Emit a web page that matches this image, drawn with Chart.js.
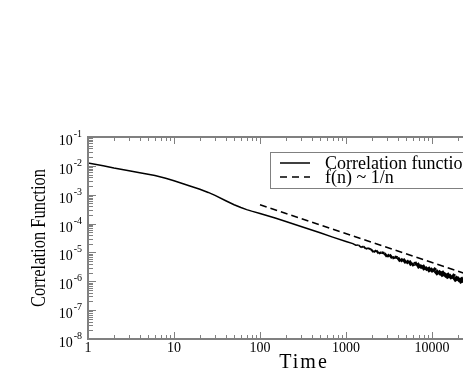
<!DOCTYPE html>
<html>
<head>
<meta charset="utf-8">
<script src="https://cdn.jsdelivr.net/npm/chart.js@4.4.1/dist/chart.umd.min.js"></script>
<style>
  html, body { margin: 0; padding: 0; background: #fff; overflow: hidden; }
  canvas { display: block; }
</style>
</head>
<body>
<canvas id="corrChart" width="560" height="382"></canvas>
<script>
// correlation function (time step, value)
const corrTime = [1, 1.5, 2, 3, 4, 5, 6, 8, 10, 12, 15, 20, 25, 30, 40, 50, 60, 70, 80, 100,
  150, 200, 300, 500, 700, 1000,
  1200, 1300, 1400, 1500, 1600, 1700, 1800, 1950, 2100, 2250, 2400, 2600, 2800, 3000, 3200,
  3450, 3700, 4000, 4300, 4600, 5000, 5400, 5800, 6200, 6700, 7200, 7700, 8300, 8900, 9600,
  10300, 11000, 11900, 12800, 13700, 14700, 15800, 17000, 18300, 19600, 21100, 22700, 24400,
  26200, 28200, 30000];
const corrValue = [1.25e-2, 1.0e-2, 8.4e-3, 6.8e-3, 5.8e-3, 5.1e-3, 4.6e-3, 3.7e-3, 3.05e-3, 2.55e-3,
  2.05e-3, 1.55e-3, 1.2e-3, 9.5e-4, 6.2e-4, 4.5e-4, 3.6e-4, 3.05e-4, 2.7e-4, 2.25e-4,
  1.55e-4, 1.18e-4, 7.9e-5, 4.8e-5, 3.4e-5, 2.4e-5,
  2.02e-5, 1.78e-5, 1.8e-5, 1.5e-5, 1.62e-5, 1.33e-5, 1.42e-5, 1.28e-5, 1.02e-5, 1.18e-5, 9.2e-6,
  1.0e-5, 9.4e-6, 7.1e-6, 8.4e-6, 6.3e-6, 6.9e-6, 6.6e-6, 4.9e-6, 5.9e-6, 4.3e-6, 5.1e-6, 3.6e-6,
  4.0e-6, 4.2e-6, 2.9e-6, 3.6e-6, 2.5e-6, 3.0e-6, 2.2e-6, 2.7e-6, 2.3e-6, 1.75e-6, 2.2e-6, 1.5e-6,
  1.85e-6, 1.3e-6, 1.6e-6, 1.4e-6, 1.05e-6, 1.3e-6, 9.0e-7, 1.12e-6, 8.0e-7, 9.6e-7, 7.0e-7];

// f(n) ~ 1/n guide line (end points)
const guideTime = [100, 30000];
const guideValue = [4.5e-4, 1.5e-6];

const seriesNames = ["Correlation function", "f(n) ~ 1/n"];
const xTickValues = [1, 10, 100, 1000, 10000, 100000];
const yTickExponents = [-1, -2, -3, -4, -5, -6, -7, -8];

const serif = "'Liberation Serif', 'DejaVu Serif', serif";
const axisGrey = "#808080";

// axes frame, inward ticks, labels, titles and legend box
const decorations = {
  id: "decorations",
  afterDatasetsDraw(chart) {
    const { ctx, chartArea: a, scales } = chart;
    const xs = scales.x, ys = scales.y;
    ctx.save();

    ctx.strokeStyle = axisGrey;
    ctx.lineWidth = 1;
    // x ticks on bottom and top
    for (let d = 0; d < 5; d++) {
      for (let k = 1; k < 10; k++) {
        const px = Math.round(xs.getPixelForValue(k * Math.pow(10, d))) + 0.5;
        const len = k === 1 ? 7 : 4;
        ctx.beginPath();
        ctx.moveTo(px, a.bottom); ctx.lineTo(px, a.bottom - len);
        ctx.moveTo(px, a.top); ctx.lineTo(px, a.top + len);
        ctx.stroke();
      }
    }
    // y ticks on left and right
    for (let e = -8; e < -1; e++) {
      for (let k = 1; k < 10; k++) {
        const py = Math.round(ys.getPixelForValue(k * Math.pow(10, e))) + 0.5;
        const len = k === 1 ? 8 : 5;
        ctx.beginPath();
        ctx.moveTo(a.left, py); ctx.lineTo(a.left + len, py);
        ctx.moveTo(a.right, py); ctx.lineTo(a.right - len, py);
        ctx.stroke();
      }
    }

    // frame
    ctx.lineWidth = 2;
    ctx.strokeRect(a.left, a.top, a.right - a.left, a.bottom - a.top);

    // x tick labels
    ctx.fillStyle = "#000";
    ctx.font = "14px " + serif;
    ctx.textAlign = "center";
    ctx.textBaseline = "top";
    xTickValues.forEach(v => {
      ctx.fillText(String(v), xs.getPixelForValue(v), a.bottom + 2);
    });

    // y tick labels as 10 with superscript exponent
    ctx.textAlign = "left";
    ctx.textBaseline = "alphabetic";
    yTickExponents.forEach(e => {
      const py = ys.getPixelForValue(Math.pow(10, e));
      ctx.font = "14px " + serif;
      const wBase = ctx.measureText("10").width;
      ctx.font = "10px " + serif;
      const sup = "-" + Math.abs(e);
      const wSup = ctx.measureText(sup).width;
      const x0 = a.left - 6 - wBase - wSup - 1;
      ctx.font = "14px " + serif;
      ctx.fillText("10", x0, py + 8);
      ctx.font = "10px " + serif;
      ctx.fillText(sup, x0 + wBase + 1, py);
    });

    // axis titles
    ctx.font = "20px " + serif;
    ctx.textAlign = "center";
    ctx.textBaseline = "middle";
    ctx.letterSpacing = "2px";
    ctx.fillText("Time", (a.left + a.right) / 2 + 1, a.bottom + 24);
    ctx.letterSpacing = "0px";

    ctx.save();
    ctx.translate(39, (a.top + a.bottom) / 2);
    ctx.rotate(-Math.PI / 2);
    ctx.scale(0.75, 1);
    ctx.font = "22px " + serif;
    ctx.fillText("Correlation Function", 0, 0);
    ctx.restore();

    // legend box
    const lx = 270, ly = 152;
    ctx.font = "18px " + serif;
    const textW = ctx.measureText(seriesNames[0]).width;
    ctx.strokeStyle = axisGrey;
    ctx.lineWidth = 1;
    ctx.strokeRect(lx + 0.5, ly + 0.5, 55 + textW + 12, 36);
    ctx.strokeStyle = "#000";
    ctx.lineWidth = 1.5;
    ctx.textAlign = "left";
    ctx.textBaseline = "middle";
    seriesNames.forEach((name, i) => {
      const y = ly + 11 + i * 14;
      ctx.setLineDash(i === 0 ? [] : [7, 5]);
      ctx.beginPath();
      ctx.moveTo(lx + 10, y); ctx.lineTo(lx + 40, y);
      ctx.stroke();
      ctx.fillText(name, lx + 55, y + 1);
    });
    ctx.setLineDash([]);
    ctx.restore();
  }
};

// the noisy tail is drawn thicker as the noise grows
function tailWidth(seg) {
  const t = seg.p0.parsed.x;
  if (t < 1300) return 1.5;
  return 1.5 + 4.5 * Math.log10(t / 1300) / Math.log10(30000 / 1300);
}

const ctx = document.getElementById("corrChart").getContext("2d");
const corrChart = new Chart(ctx, {
  type: "line",
  data: {
    datasets: [
      {
        label: seriesNames[0],
        data: corrTime.map((t, i) => ({ x: t, y: corrValue[i] })),
        borderColor: "#000",
        borderWidth: 1.5,
        segment: { borderWidth: tailWidth },
        pointRadius: 0,
        tension: 0,
        fill: false
      },
      {
        label: seriesNames[1],
        data: guideTime.map((t, i) => ({ x: t, y: guideValue[i] })),
        borderColor: "#000",
        borderWidth: 1.5,
        borderDash: [7, 4],
        pointRadius: 0,
        fill: false
      }
    ]
  },
  options: {
    responsive: false,
    devicePixelRatio: 1,
    animation: false,
    layout: { padding: { left: 88, top: 137, right: 42, bottom: 43 } },
    plugins: {
      legend: { display: false },
      tooltip: { enabled: false }
    },
    scales: {
      x: { type: "logarithmic", min: 1, max: 100000, display: false },
      y: { type: "logarithmic", min: 1e-8, max: 1e-1, display: false }
    }
  },
  plugins: [decorations]
});
</script>
</body>
</html>
